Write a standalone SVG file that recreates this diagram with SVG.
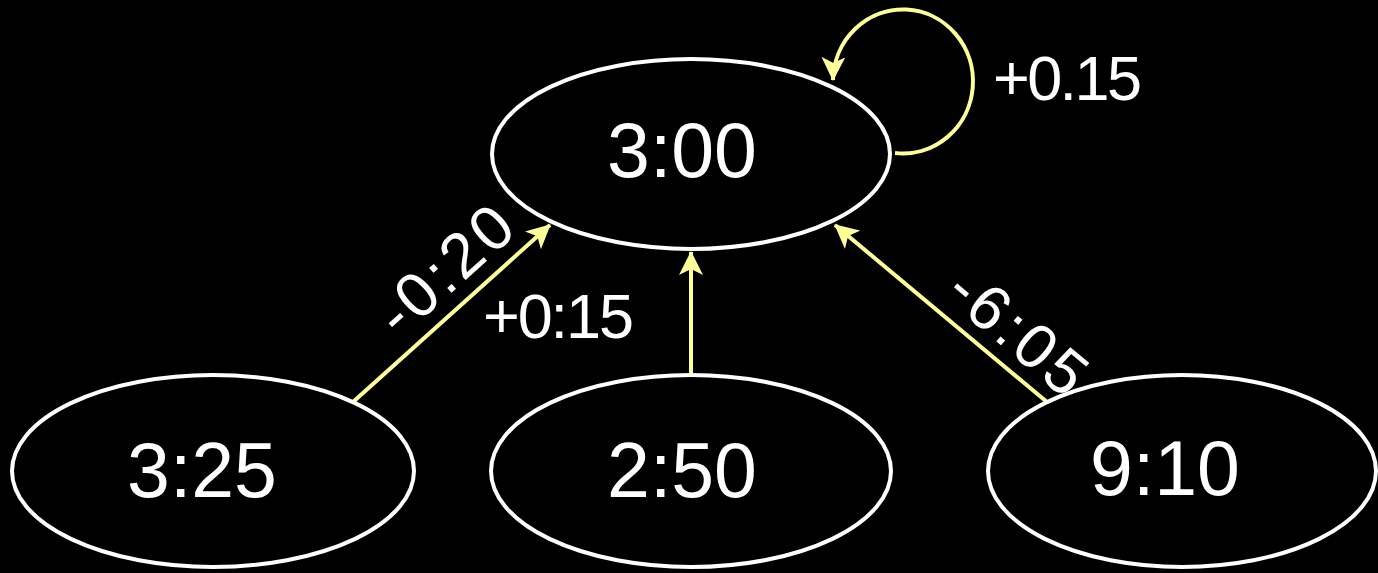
<svg xmlns="http://www.w3.org/2000/svg" width="1378" height="573" viewBox="0 0 1378 573">
<style>
.node{fill:#000;stroke:#fff;stroke-width:4}
.lbl{fill:#fff;font-family:"Comic Sans MS","Liberation Sans",sans-serif;font-size:77px;text-anchor:middle}
.elbl{fill:#fff;font-family:"Comic Sans MS","Liberation Sans",sans-serif;font-size:63px}
.edge{fill:none;stroke:#ffff99;stroke-width:4;marker-end:url(#arr)}
</style>
<defs>
<marker id="arr" markerUnits="userSpaceOnUse" viewBox="0 0 24 24" markerWidth="24" markerHeight="24" refX="23" refY="12" orient="auto">
<path d="M0,0 L24,12 L0,24 L6,12 Z" fill="#ffff99"/>
</marker>
</defs>
<rect width="1378" height="573" fill="#000"/>
<g id="connectors">
<path class="edge" d="M353,402 L550,225"/>
<path class="edge" d="M691,375 L691,252"/>
<path class="edge" d="M1047,402 L835,225"/>
<path class="edge" d="M895,153 A70 72 0 1 0 833,80"/>
<text class="elbl" x="993" y="100" textLength="149" lengthAdjust="spacing">+0.15</text>
<text class="elbl" x="483" y="338" textLength="151" lengthAdjust="spacing">+0:15</text>
<text class="elbl" text-anchor="middle" transform="translate(459,286) rotate(-42)" textLength="160" lengthAdjust="spacing">-0:20</text>
<text class="elbl" text-anchor="middle" transform="translate(1004,348) rotate(40)" textLength="160" lengthAdjust="spacing">-6:05</text>
</g>
<g id="n300">
<ellipse class="node" cx="691" cy="154" rx="199" ry="95"/>
<text class="lbl" x="682" y="177">3:00</text>
</g>
<g id="n325">
<ellipse class="node" cx="213" cy="471" rx="201" ry="96"/>
<text class="lbl" x="202" y="497">3:25</text>
</g>
<g id="n250">
<ellipse class="node" cx="691" cy="471" rx="200" ry="96"/>
<text class="lbl" x="682" y="497">2:50</text>
</g>
<g id="n910">
<ellipse class="node" cx="1182" cy="471" rx="194" ry="96"/>
<text class="lbl" x="1165" y="495">9:10</text>
</g>
</svg>
